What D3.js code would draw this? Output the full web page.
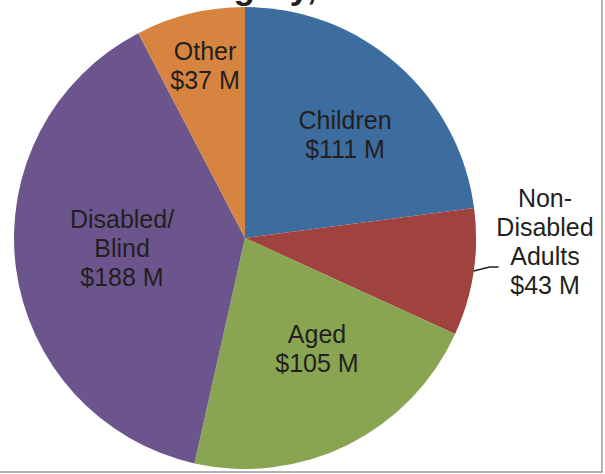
<!DOCTYPE html>
<html>
<head>
<meta charset="utf-8">
<script src="https://cdn.jsdelivr.net/npm/d3@7"></script>
<style>
  html, body { margin: 0; padding: 0; background: #fff; }
  svg { display: block; }
  text { font-family: "Liberation Sans", Arial, sans-serif; fill: #231f20; }
</style>
</head>
<body>
<svg id="chart" width="605" height="474"></svg>
<script>
// Spending by eligibility category (millions of dollars)
const categories = ["Children", "Non-Disabled Adults", "Aged", "Disabled/Blind", "Other"];
const values = [111, 43, 105, 188, 37];
const labelLines = [
  ["Children", "$111 M"],
  ["Non-", "Disabled", "Adults", "$43 M"],
  ["Aged", "$105 M"],
  ["Disabled/", "Blind", "$188 M"],
  ["Other", "$37 M"]
];
const colors = ["#3d6c9e", "#a0433f", "#89a552", "#6c558c", "#d6843f"];
const titleText = "Category, 2008";

const W = 605, H = 474;
const cx = 245, cy = 238, R = 231;
const fontSize = 25, lineH = 29;

// label anchors as [dx, dy] from the pie centre (midpoint of the first and last baselines)
const labelAnchor = [
  [100, -95],
  [300, 12],
  [72, 119.5],
  [-123, 18.5],
  [-40, -164]
];

const svg = d3.select("#chart");

// chart title, mostly above the visible area
svg.append("text")
  .attr("x", 404).attr("y", -1)
  .attr("text-anchor", "end")
  .style("font-size", "35px").style("font-weight", "bold")
  .text(titleText);

const pie = d3.pie().sort(null).value(d => d)
  .startAngle(0).endAngle(2 * Math.PI);
const arcs = pie(values);
const arc = d3.arc().innerRadius(0).outerRadius(R);

const g = svg.append("g").attr("transform", `translate(${cx},${cy})`);

g.selectAll("path.slice")
  .data(arcs)
  .join("path")
  .attr("class", "slice")
  .attr("d", arc)
  .attr("fill", (d, i) => colors[i]);

// leader line for the outside label
const nda = arcs[1];
const edgeAng = nda.startAngle + (nda.endAngle - nda.startAngle) * 0.49;
const edge = [Math.sin(edgeAng) * R, -Math.cos(edgeAng) * R];
g.append("polyline")
  .attr("points", [edge, [edge[0] + 16, edge[1] - 4], [edge[0] + 25, edge[1] - 4]].map(p => p.join(",")).join(" "))
  .attr("fill", "none").attr("stroke", "#231f20").attr("stroke-width", 1.5);

// data labels
labelLines.forEach((lines, i) => {
  const [ax, ay] = labelAnchor[i];
  const t = g.append("text")
    .attr("text-anchor", "middle")
    .style("font-size", fontSize + "px");
  const first = ay - (lines.length - 1) * lineH / 2;
  lines.forEach((ln, j) => {
    t.append("tspan").attr("x", ax).attr("y", first + j * lineH).text(ln);
  });
});

// frame edges
svg.append("line").attr("x1", 602).attr("x2", 602).attr("y1", 0).attr("y2", 472.5)
  .attr("stroke", "#9a9a9a").attr("stroke-width", 1.5);
svg.append("line").attr("x1", 0).attr("x2", 602.75).attr("y1", 472).attr("y2", 472)
  .attr("stroke", "#9a9a9a").attr("stroke-width", 1.5);
</script>
</body>
</html>
